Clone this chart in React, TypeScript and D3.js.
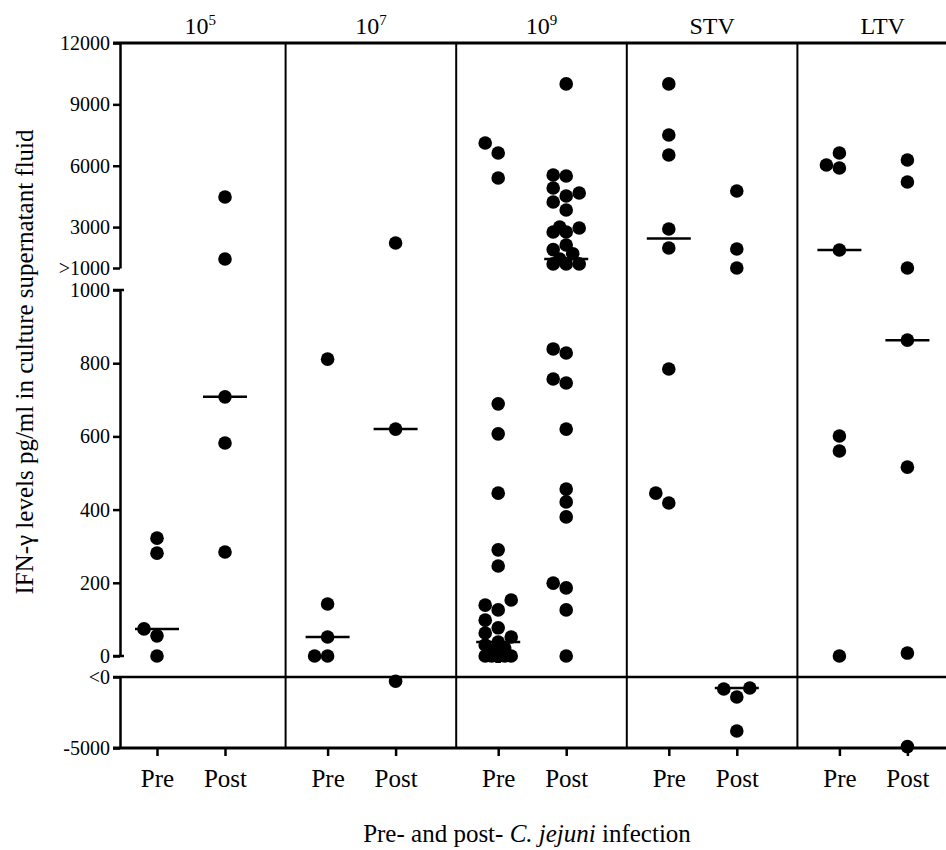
import React, { useRef, useEffect } from 'react';
import * as d3 from 'd3';

// Groups (dose / vaccine) and the two time points within each group
const groups = ['1e5', '1e7', '1e9', 'STV', 'LTV'];
const groupBase = ['10', '10', '10', 'STV', 'LTV'];
const groupSup = ['5', '7', '9', '', ''];
const phases = ['Pre', 'Post'];

// IFN-gamma values (pg/ml)
const pre1e5 = [0, 55, 74, 281, 322];
const post1e5 = [284, 582, 708, 1440, 4472];
const pre1e7 = [0, 0, 52, 142, 811];
const post1e7 = [-300, 620, 2222];
const pre1e9 = [
  0, 0, 0, 0, 0, 0, 0, 0, 0, 0, 0, 8, 15, 22, 30, 38,
  52, 63, 77, 98, 126, 139, 153, 246, 290, 445, 607, 689, 5401, 6623, 7112,
];
const post1e9 = [
  0, 126, 186, 199, 380, 421, 456, 620, 746, 757, 828, 839, 1200, 1200, 1200, 1440,
  1700, 1900, 2125, 2760, 2760, 2956, 3005, 3836, 4227, 4520, 4667, 4912, 5499, 5548, 10000,
];
const preSTV = [418, 445, 784, 1978, 2907, 6526, 7504, 10000];
const postSTV = [-3803, -1408, -845, -775, 1000, 1929, 4765];
const preLTV = [0, 560, 601, 1880, 5890, 6037, 6623];
const postLTV = [-4900, 8, 516, 863, 1000, 5205, 6281];

const series = [
  [pre1e5, post1e5],
  [pre1e7, post1e7],
  [pre1e9, post1e9],
  [preSTV, postSTV],
  [preLTV, postLTV],
];

// Broken y axis: three segments
const topTicks = [1000, 3000, 6000, 9000, 12000];
const topTickLabels = ['>1000', '3000', '6000', '9000', '12000'];
const midTicks = [0, 200, 400, 600, 800, 1000];
const lowTicks = [-5000, 0];
const lowTickLabels = ['-5000', '<0'];

const FONT = "'Liberation Serif', 'Times New Roman', serif";
const W = 946;
const H = 850;
const AXIS_X = 120;
const TOP = 43;
const BOTTOM = 748;
const R = 6.8;
const OFFSETS = [0, -6.5, 6.5, -13, 13];
const MIN_GAP = 12.5;

export default function App() {
  const svgRef = useRef<SVGSVGElement>(null);

  useEffect(() => {
    if (!svgRef.current) return;
    const svg = d3.select(svgRef.current);
    svg.selectAll('*').remove();

    const yTop = d3.scaleLinear().domain([1000, 12000]).range([268, TOP]);
    const yMid = d3.scaleLinear().domain([0, 1000]).range([656, 290]);
    const yLow = d3.scaleLinear().domain([-5000, 0]).range([BOTTOM, 677]);
    const yPos = (v: number) => (v < 0 ? yLow(v) : v < 1000 ? yMid(v) : yTop(v));

    const xGroup = d3.scaleBand<string>().domain(groups).range([115, 968]).padding(0);
    const xPhase = d3.scalePoint<string>().domain(phases).range([42, 110]);

    // Frame lines
    const frame = svg.append('g').attr('stroke', '#000').attr('fill', 'none');
    frame.append('line').attr('x1', 113).attr('x2', W).attr('y1', TOP).attr('y2', TOP).attr('stroke-width', 3);
    frame.append('line').attr('x1', 113).attr('x2', W).attr('y1', yLow(0)).attr('y2', yLow(0)).attr('stroke-width', 2.5);
    frame.append('line').attr('x1', 113).attr('x2', W).attr('y1', BOTTOM).attr('y2', BOTTOM).attr('stroke-width', 3);
    groups.slice(1).forEach(g => {
      const x = xGroup(g) || 0;
      frame.append('line').attr('x1', x).attr('x2', x).attr('y1', TOP).attr('y2', BOTTOM).attr('stroke-width', 2);
    });

    // Y axis segments
    const styleAxis = (sel: d3.Selection<SVGGElement, unknown, null, undefined>) => {
      sel.attr('font-family', FONT).attr('font-size', 20);
      sel.selectAll('path.domain').attr('stroke-width', 2.5);
      sel.selectAll('.tick line').attr('stroke-width', 2.5);
      sel.selectAll('.tick text').attr('fill', '#000');
    };
    const axTop = svg.append('g').attr('transform', `translate(${AXIS_X},0)`)
      .call(d3.axisLeft(yTop).tickValues(topTicks).tickSize(7).tickSizeOuter(0).tickPadding(3)
        .tickFormat((_, i) => topTickLabels[i]));
    styleAxis(axTop);
    const axMid = svg.append('g').attr('transform', `translate(${AXIS_X},0)`)
      .call(d3.axisLeft(yMid).tickValues(midTicks).tickSize(7).tickSizeOuter(0).tickPadding(3)
        .tickFormat(d => `${d}`));
    styleAxis(axMid);
    const axLow = svg.append('g').attr('transform', `translate(${AXIS_X},0)`)
      .call(d3.axisLeft(yLow).tickValues(lowTicks).tickSize(7).tickSizeOuter(0).tickPadding(3)
        .tickFormat((_, i) => lowTickLabels[i]));
    styleAxis(axLow);

    // End caps on the middle segment
    [0, 1000].forEach(v => {
      svg.append('line').attr('x1', AXIS_X - 7).attr('x2', AXIS_X + 4)
        .attr('y1', yMid(v)).attr('y2', yMid(v)).attr('stroke', '#000').attr('stroke-width', 2.5);
    });

    // Group labels on top
    groups.forEach((g, i) => {
      const cx = (xGroup(g) || 0) + xGroup.bandwidth() / 2;
      const t = svg.append('text').attr('x', cx).attr('y', 34).attr('text-anchor', 'middle')
        .attr('font-family', FONT).attr('font-size', 24).attr('fill', '#000');
      t.append('tspan').text(groupBase[i]);
      if (groupSup[i]) {
        t.append('tspan').attr('dy', -9).attr('font-size', 15).text(groupSup[i]);
      }
    });

    // Pre/Post ticks and labels
    groups.forEach(g => {
      const ax = svg.append('g').attr('transform', `translate(${xGroup(g) || 0},${BOTTOM})`)
        .call(d3.axisBottom(xPhase).tickSize(8).tickPadding(13));
      ax.select('path.domain').remove();
      ax.attr('font-family', FONT).attr('font-size', 25);
      ax.selectAll('.tick line').attr('stroke-width', 2.5);
      ax.selectAll('.tick text').attr('fill', '#000');
    });

    // Points (compact column scatter) and median lines
    series.forEach((pair, gi) => {
      pair.forEach((vals, pi) => {
        const cx = (xGroup(groups[gi]) || 0) + (xPhase(phases[pi]) || 0);
        const pts = vals.map(v => ({ v, x: cx, y: yPos(v) })).sort((a, b) => b.y - a.y);
        const placed: { v: number; x: number; y: number }[] = [];
        pts.forEach(p => {
          let best = 0;
          let bestD = -1;
          for (const k of OFFSETS) {
            const x = cx + k;
            const d = placed.length ? d3.min(placed, q => Math.hypot(q.x - x, q.y - p.y)) as number : Infinity;
            if (d >= MIN_GAP) { best = k; break; }
            if (d > bestD) { bestD = d; best = k; }
          }
          p.x = cx + best;
          placed.push(p);
        });

        svg.append('g').selectAll('circle').data(placed).enter().append('circle')
          .attr('cx', d => d.x).attr('cy', d => d.y).attr('r', R).attr('fill', '#000');

        const med = d3.median(vals) as number;
        svg.append('line').attr('x1', cx - 22).attr('x2', cx + 22)
          .attr('y1', yPos(med)).attr('y2', yPos(med))
          .attr('stroke', '#000').attr('stroke-width', 2.5);
      });
    });

    // Axis titles
    svg.append('text').attr('transform', 'translate(33,362) rotate(-90)').attr('text-anchor', 'middle')
      .attr('font-family', FONT).attr('font-size', 25).attr('fill', '#000')
      .text('IFN-\u03B3 levels pg/ml in culture supernatant fluid');

    const xt = svg.append('text').attr('x', 527).attr('y', 842).attr('text-anchor', 'middle')
      .attr('font-family', FONT).attr('font-size', 25).attr('fill', '#000');
    xt.append('tspan').text('Pre- and post- ');
    xt.append('tspan').attr('font-style', 'italic').text('C. jejuni');
    xt.append('tspan').text(' infection');
  }, []);

  return (
    <svg
      ref={svgRef}
      width={W}
      height={H}
      style={{ position: 'absolute', left: 0, top: 0, background: '#fff' }}
    />
  );
}
